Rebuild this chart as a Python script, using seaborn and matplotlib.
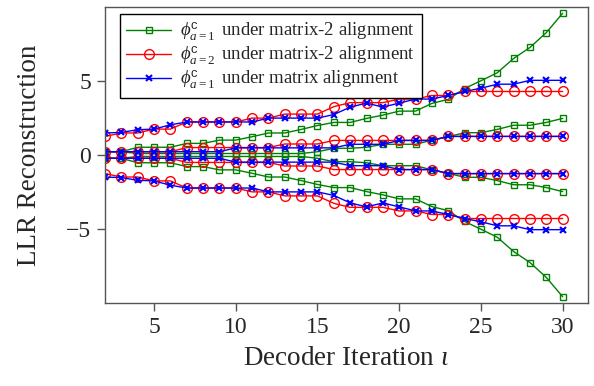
import matplotlib
matplotlib.use("Agg")
import matplotlib.pyplot as plt
import seaborn as sns
import numpy as np

iterations = list(range(2, 31))

green_large = [0.22, 0.22, 0.52, 0.52, 0.52, 0.78, 0.78, 1.0, 1.0, 1.23, 1.48, 1.48, 1.72, 1.98,
               2.19, 2.19, 2.46, 2.68, 2.95, 2.95, 3.47, 3.74, 4.47, 4.99, 5.53, 6.49, 7.23, 8.23, 9.53]
green_small = [0.22, 0.22, 0.1, 0.1, 0.1, 0.1, 0.1, 0.1, 0.1, 0.1, 0.1, 0.1, 0.1, 0.22,
               0.45, 0.45, 0.52, 0.72, 0.72, 0.72, 1.0, 1.23, 1.5, 1.5, 1.72, 2.0, 2.0, 2.19, 2.46]
red_large = [1.25, 1.48, 1.48, 1.74, 1.74, 2.22, 2.22, 2.22, 2.22, 2.48, 2.48, 2.75, 2.75, 2.75,
             3.25, 3.52, 3.52, 3.52, 3.76, 3.76, 4.0, 4.0, 4.27, 4.27, 4.27, 4.27, 4.27, 4.27, 4.27]
red_small = [0.22, 0.22, 0.22, 0.22, 0.22, 0.5, 0.5, 0.5, 0.5, 0.5, 0.5, 0.74, 0.74, 0.74,
             0.98, 0.98, 0.98, 0.98, 0.98, 0.98, 0.98, 1.25, 1.25, 1.25, 1.25, 1.25, 1.25, 1.25, 1.25]
blue_large = [1.48, 1.52, 1.7, 1.74, 2.03, 2.22, 2.22, 2.22, 2.22, 2.22, 2.48, 2.48, 2.48, 2.48,
              2.72, 3.22, 3.49, 3.22, 3.49, 3.76, 3.76, 4.0, 4.27, 4.49, 4.76, 4.76, 5.02, 5.02, 5.02]
blue_small = [0.22, 0.22, 0.22, 0.22, 0.22, 0.22, 0.22, 0.22, 0.48, 0.48, 0.48, 0.48, 0.48, 0.48,
              0.48, 0.72, 0.72, 0.72, 0.98, 0.98, 0.98, 1.25, 1.25, 1.25, 1.25, 1.25, 1.25, 1.25, 1.25]

labels = [r"$\phi^{\mathsf{c}}_{a=1}\,$ under matrix-2 alignment",
          r"$\phi^{\mathsf{c}}_{a=2}\,$ under matrix-2 alignment",
          r"$\phi^{\mathsf{c}}_{a=1}\,$ under matrix alignment"]

sns.set_theme(style="white")
plt.rcParams["font.family"] = ["Liberation Serif", "DejaVu Serif"]
plt.rcParams["mathtext.fontset"] = "custom"
plt.rcParams["mathtext.rm"] = "Liberation Serif"
plt.rcParams["mathtext.it"] = "Liberation Serif:italic"
plt.rcParams["mathtext.bf"] = "Liberation Serif:bold"
plt.rcParams["mathtext.sf"] = "Liberation Sans"

fig = plt.figure(figsize=(5.94, 3.86), dpi=100)
ax = fig.add_axes([0.1768, 0.215, 0.9899 - 0.1768, 0.9819 - 0.215])

series = [
    ("#008000", "s", dict(markersize=4, markerfacecolor="none", markeredgewidth=1.0), [green_large, green_small]),
    ("#ff0000", "o", dict(markersize=7, markerfacecolor="none", markeredgewidth=1.0), [red_large, red_small]),
    ("#0000ff", "x", dict(markersize=5, markeredgewidth=1.5), [blue_large, blue_small]),
]

handles = []
for (color, marker, mkw, lines), lab in zip(series, labels):
    for vals in lines:
        for sign in (1, -1):
            y = [sign * v for v in vals]
            sns.lineplot(x=iterations, y=y, ax=ax, color=color, marker=marker,
                         linewidth=1.0, markeredgecolor=color, legend=False, **mkw)
    handles.append(ax.lines[-1])

ax.set_xlim(2, 31.55)
ax.set_ylim(-9.95, 9.95)
ax.set_xticks([5, 10, 15, 20, 25, 30])
ax.set_yticks([-5, 0, 5])
ax.tick_params(axis="both", direction="out", length=6, width=1.0, color="#555555",
               labelsize=17, pad=4, bottom=True, left=True)
for s in ax.spines.values():
    s.set_color("#555555")
    s.set_linewidth(1.0)
    s.set_visible(True)

ax.set_xlabel(r"Decoder Iteration $\iota$", fontsize=19.5, labelpad=6)
ax.set_ylabel("LLR Reconstruction", fontsize=19.5, labelpad=17)

leg = ax.legend(handles, labels, loc="upper left", bbox_to_anchor=(0.03, 0.975),
                fontsize=13.5, frameon=True, fancybox=False, framealpha=1,
                edgecolor="black", borderpad=0.35, handlelength=2.4,
                labelspacing=0.08, handletextpad=0.5, borderaxespad=0)
leg.get_frame().set_linewidth(1.0)

fig.savefig("out.png", dpi=100)
